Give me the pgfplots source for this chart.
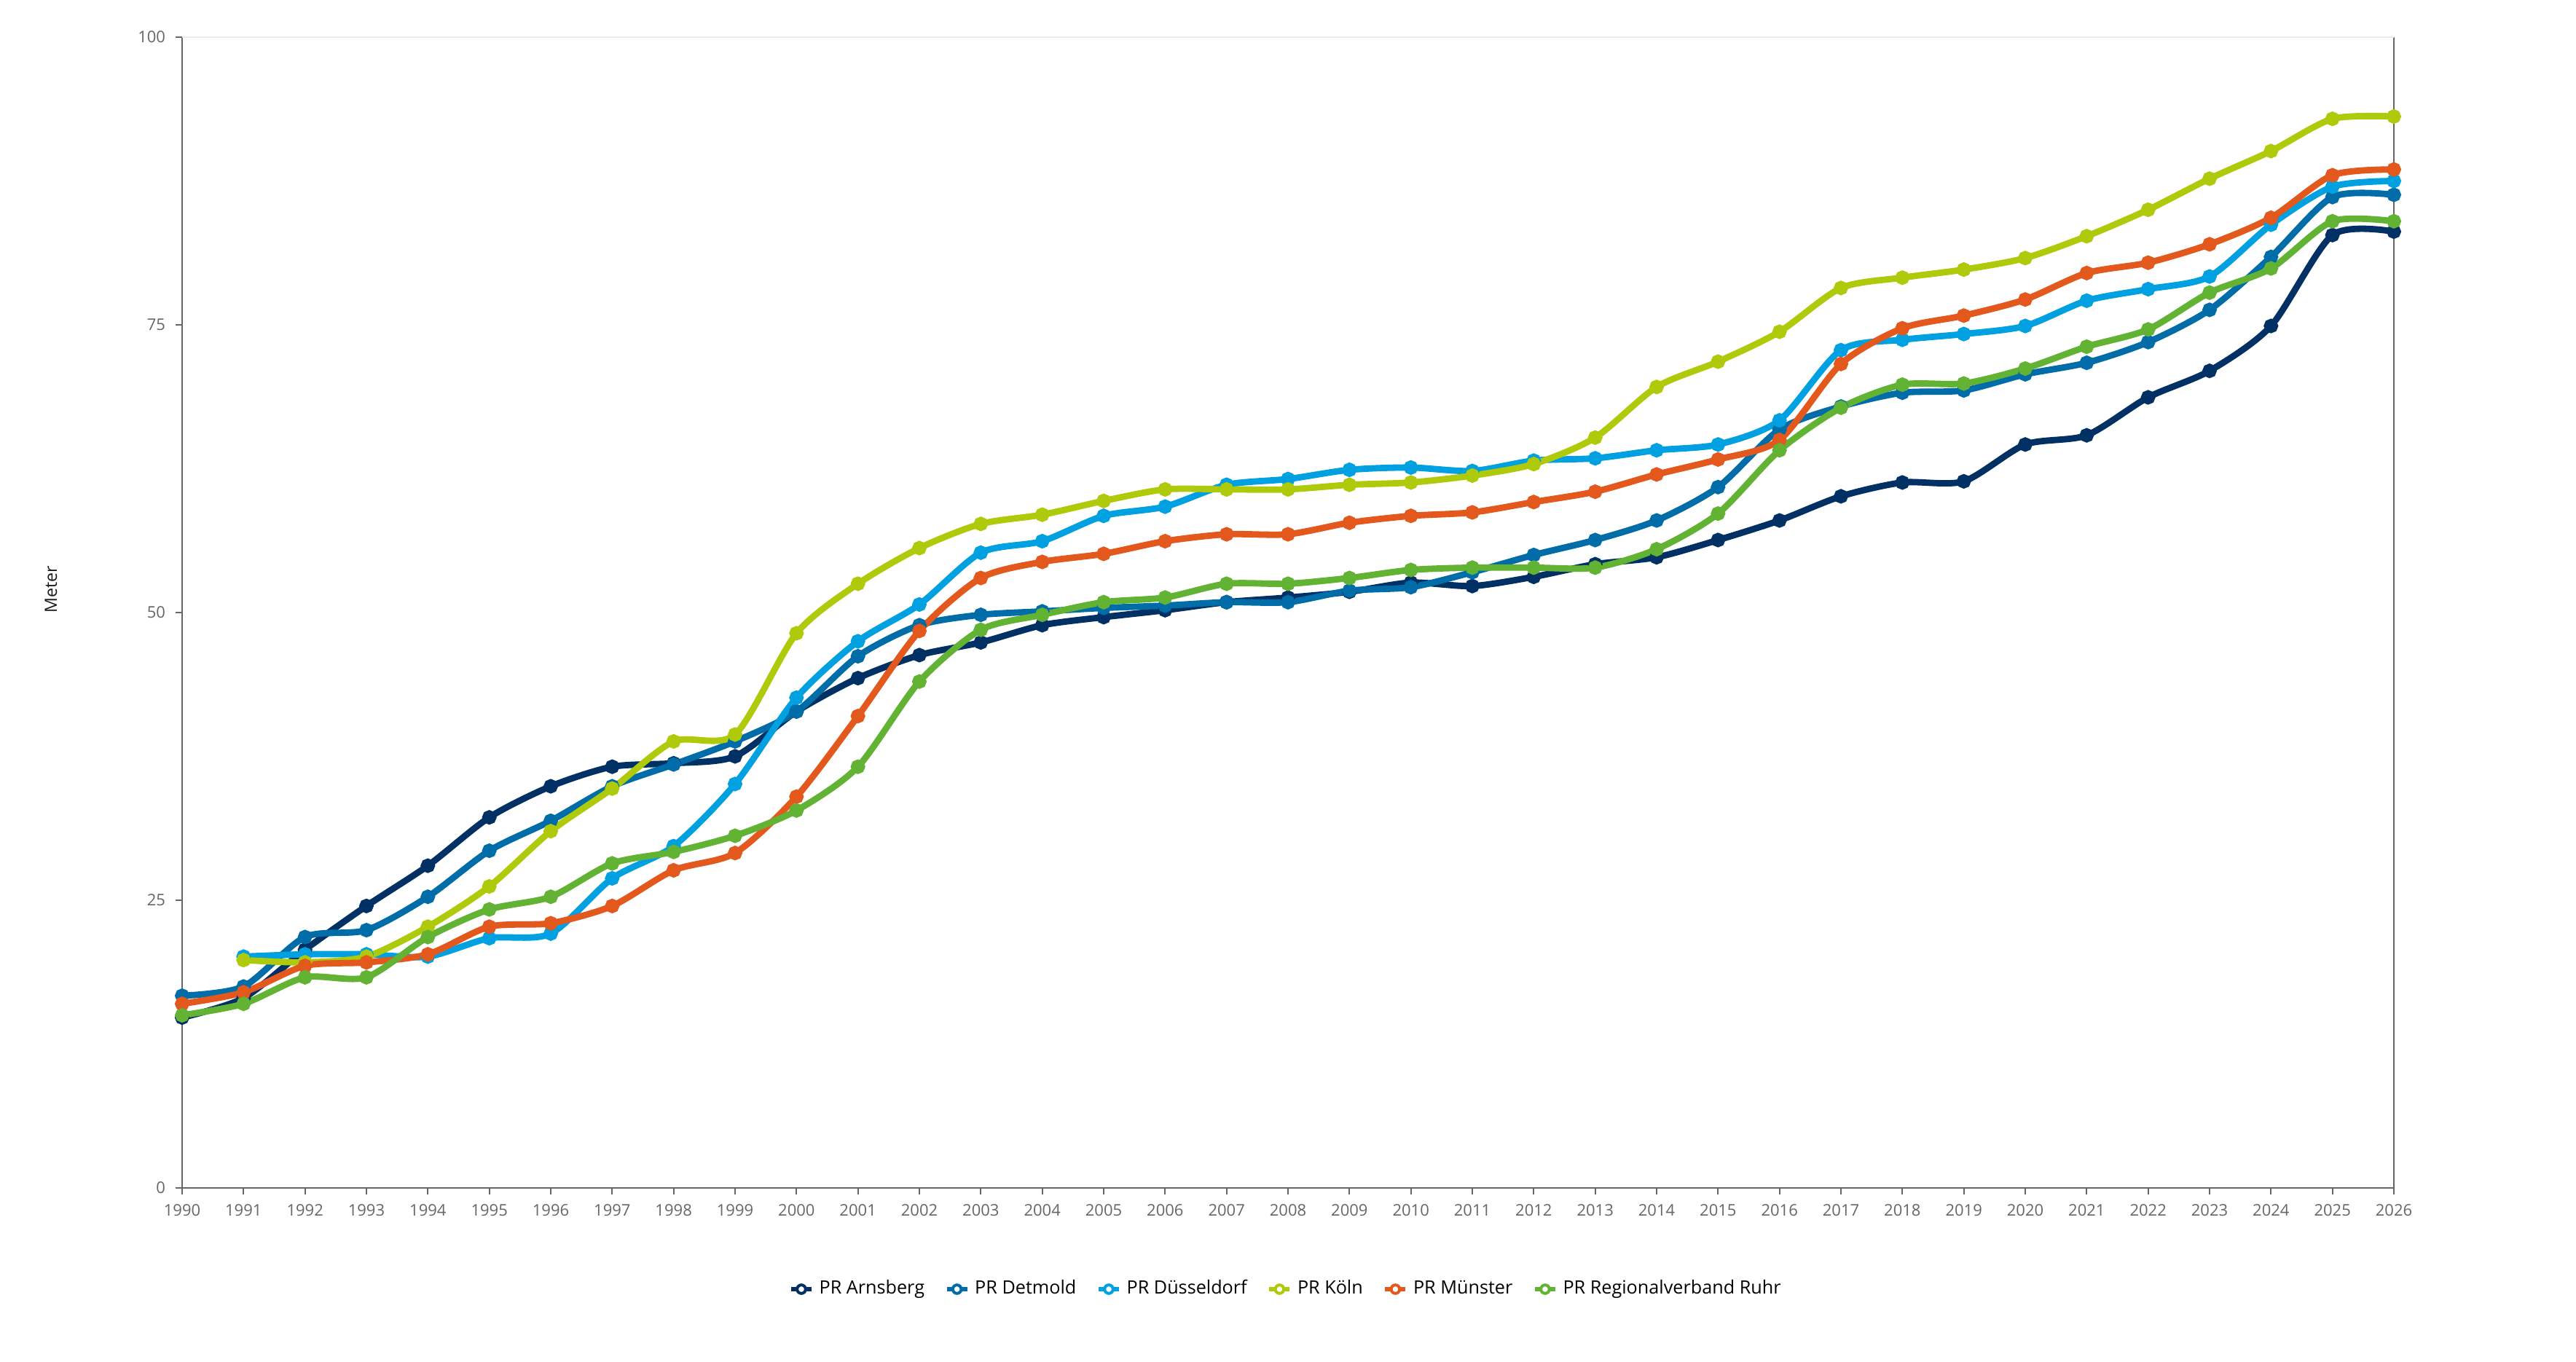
\documentclass[border=0pt]{standalone}
\usepackage{pgfplots}
\usepackage{pgfplotstable}
\pgfplotsset{compat=1.18}
\usepackage{fontspec}
\setmainfont{Open Sans}
\definecolor{cArn}{HTML}{003064}
\definecolor{cDet}{HTML}{006CA8}
\definecolor{cDue}{HTML}{00A0E1}
\definecolor{cKoe}{HTML}{AFCA0B}
\definecolor{cMue}{HTML}{E3581C}
\definecolor{cRuhr}{HTML}{62B233}
\definecolor{axgray}{HTML}{666666}

\pgfplotstableread{
year Arn  Det  Due  Koe  Mue  Ruhr
1990 14.8 16.7 nan  nan  16.0 15.0
1991 16.5 17.5 20.1 19.8 17.0 16.0
1992 20.7 21.8 20.3 19.6 19.3 18.3
1993 24.5 22.4 20.3 20.1 19.6 18.3
1994 28.0 25.3 20.1 22.7 20.3 21.8
1995 32.2 29.3 21.7 26.2 22.7 24.2
1996 34.9 31.9 22.1 31.0 23.0 25.3
1997 36.6 34.9 26.9 34.7 24.5 28.2
1998 36.9 36.8 29.7 38.8 27.6 29.2
1999 37.5 38.8 35.1 39.4 29.1 30.6
2000 41.4 41.4 42.6 48.2 34.0 32.8
2001 44.3 46.2 47.5 52.5 41.0 36.6
2002 46.3 48.9 50.7 55.6 48.4 44.0
2003 47.4 49.8 55.2 57.7 53.0 48.5
2004 48.9 50.1 56.2 58.5 54.4 49.8
2005 49.6 50.4 58.4 59.7 55.1 50.9
2006 50.2 50.6 59.2 60.7 56.2 51.3
2007 50.9 50.9 61.1 60.7 56.8 52.5
2008 51.3 50.9 61.6 60.7 56.8 52.5
2009 51.8 51.9 62.4 61.1 57.8 53.0
2010 52.6 52.2 62.6 61.3 58.4 53.7
2011 52.3 53.5 62.3 61.9 58.7 53.9
2012 53.1 55.0 63.2 62.9 59.6 53.9
2013 54.2 56.3 63.4 65.2 60.5 53.9
2014 54.8 58.0 64.1 69.6 62.0 55.5
2015 56.3 60.9 64.6 71.8 63.3 58.6
2016 58.0 65.9 66.7 74.4 65.0 64.1
2017 60.1 67.9 72.8 78.2 71.6 67.8
2018 61.3 69.1 73.7 79.1 74.7 69.8
2019 61.4 69.3 74.2 79.8 75.8 69.9
2020 64.6 70.7 74.9 80.8 77.2 71.2
2021 65.4 71.7 77.1 82.7 79.5 73.1
2022 68.7 73.5 78.1 85.0 80.4 74.6
2023 71.0 76.3 79.2 87.7 82.0 77.8
2024 74.9 80.9 83.7 90.1 84.3 79.9
2025 82.8 86.1 87.0 92.9 88.0 84.0
2026 83.1 86.3 87.5 93.1 88.5 84.0
}\datatable

\begin{document}
\begin{tikzpicture}
\begin{axis}[
  at={(0,0)}, anchor=south west,
  scale only axis,
  width=759pt, height=395pt,
  xmin=1990, xmax=2026, ymin=0, ymax=100,
  xtick={1990,1991,...,2026},
  ytick={0,25,50,75,100},
  axis lines=left,
  axis line style={-, draw=axgray, line width=0.6pt},
  tick style={draw=axgray, line width=0.5pt},
  tick align=outside,
  major tick length=2.2pt,
  /pgf/number format/assume math mode=true,
  /pgf/number format/1000 sep={},
  ticklabel style={font=\fontsize{5.5}{6.5}\selectfont, text=axgray},
  ylabel={Meter},
  every axis y label/.style={at={(axis description cs:-0.0593,0.52)}, rotate=90, anchor=center, font=\fontsize{5.8}{7}\selectfont, text=black!90},
  clip=false,
  every axis plot/.append style={smooth, tension=0.45, line width=2.2pt, mark=*, mark size=1.35pt},
  legend style={at={(axis description cs:0.5,-0.088)}, anchor=center, draw=none, fill=none,
    font=\fontsize{6.3}{8}\selectfont, legend columns=-1,
    /tikz/every even column/.append style={column sep=5pt}},
  legend image code/.code={
    \draw[#1, line width=1.3pt, mark=none] (0pt,0pt) -- (7pt,0pt);
    \draw[#1, line width=1pt, fill=white, mark=none] (3.5pt,0pt) circle (1.45pt);
  },
]
\addplot[color=cArn, mark options={fill=cArn}] table[x=year,y=Arn]{\datatable};
\addlegendentry{PR Arnsberg}
\addplot[color=cDet, mark options={fill=cDet}] table[x=year,y=Det]{\datatable};
\addlegendentry{PR Detmold}
\addplot[color=cDue, mark options={fill=cDue}] table[x=year,y=Due]{\datatable};
\addlegendentry{PR Düsseldorf}
\addplot[color=cKoe, mark options={fill=cKoe}] table[x=year,y=Koe]{\datatable};
\addlegendentry{PR Köln}
\addplot[color=cMue, mark options={fill=cMue}] table[x=year,y=Mue]{\datatable};
\addlegendentry{PR Münster}
\addplot[color=cRuhr, mark options={fill=cRuhr}] table[x=year,y=Ruhr]{\datatable};
\addlegendentry{PR Regionalverband Ruhr}
\draw[axgray, line width=0.6pt] (rel axis cs:1,0) -- (rel axis cs:1,1);
\draw[black!8, line width=0.4pt] (rel axis cs:0,1) -- (rel axis cs:1,1);
\end{axis}
\pgfresetboundingbox
\path (-62.5pt,-59.75pt) rectangle (821.5pt,407.75pt);
\end{tikzpicture}
\end{document}
